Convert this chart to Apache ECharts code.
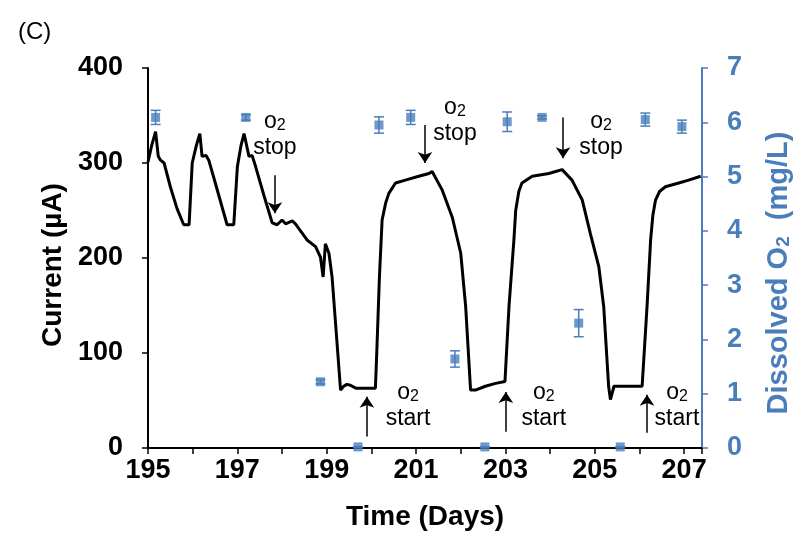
<!DOCTYPE html>
<html>
<head>
<meta charset="utf-8">
<script src="https://cdn.jsdelivr.net/npm/echarts@6/dist/echarts.min.js"></script>
<style>
html, body { margin: 0; padding: 0; background: #fff; }
#main { width: 796px; height: 536px; }
</style>
</head>
<body>
<div id="main"></div>
<script>
// current trace (days, µA)
var days = [195.0, 195.08, 195.17, 195.23, 195.28, 195.32, 195.36, 195.5, 195.65, 195.8, 195.92,
    195.99, 196.08, 196.16, 196.21, 196.3, 196.36, 196.5, 196.65, 196.77, 196.92,
    197.0, 197.08, 197.15, 197.26, 197.33, 197.41, 197.6, 197.78, 197.89,
    198.0, 198.08, 198.23, 198.3, 198.56, 198.75, 198.86, 198.92, 198.97, 199.05, 199.12, 199.2,
    199.31, 199.38, 199.45, 199.53, 199.65, 200.09, 200.12, 200.18, 200.24, 200.32, 200.39, 200.54,
    200.76, 201.06, 201.29, 201.36, 201.58, 201.81, 201.9, 202.0, 202.11, 202.22, 202.33, 202.55,
    202.78, 202.99, 203.08, 203.19, 203.23, 203.3, 203.37, 203.6, 203.97, 204.27, 204.49, 204.72,
    204.9, 205.09, 205.2, 205.31, 205.35, 205.43, 206.06, 206.17, 206.25, 206.3, 206.36, 206.45,
    206.58, 206.88, 207.1, 207.37];
var current = [301, 318, 333, 307, 303, 305, 300, 275, 252, 235, 235,
    300, 318, 331, 307, 308, 303, 280, 255, 235, 235,
    296, 318, 331, 307, 308, 296, 265, 237, 235,
    240, 236, 239, 236, 219, 212, 201, 180, 215, 205, 180, 130,
    61, 65, 67, 66, 63, 63, 100, 180, 240, 258, 268, 279,
    282, 286, 289, 291, 272, 243, 225, 205, 149, 61, 61, 65,
    68, 70, 149, 219, 250, 270, 279, 286, 289, 293, 282, 261,
    226, 191, 149, 65, 51, 65, 65, 149, 219, 245, 261, 270,
    275, 279, 282, 286];

// dissolved O2 (days, mg/L, error)
var o2Days = [195.17, 197.19, 198.86, 199.7, 200.17, 200.88, 201.87, 202.54, 203.04, 203.82, 204.64, 205.57, 206.13, 206.95];
var o2Values = [6.09, 6.09, 1.22, 0.02, 5.95, 6.09, 1.64, 0.02, 6.01, 6.09, 2.3, 0.02, 6.05, 5.92];
var o2Errors = [0.13, 0.05, 0.04, 0, 0.15, 0.13, 0.15, 0, 0.18, 0.03, 0.25, 0, 0.12, 0.12];

// axis tick labels
var xLabels = [195, 197, 199, 201, 203, 205, 207];

// annotations
var stopArrowX = [197.84, 201.2, 204.29];
var stopArrowFrom = [287, 340, 348];
var stopArrowTo = [247, 300, 305];
var stopTextX = [197.84, 201.87, 205.14];
var stopTextY = [330, 345, 330];
var startArrowX = [199.9, 203.01, 206.17];
var startArrowFrom = [12, 17, 16];
var startArrowTo = [54, 59, 56];
var startTextX = [200.82, 203.86, 206.84];
var startTextY = [45, 45, 45];

var font = "'Liberation Sans', Arial, sans-serif";
var blue = "#4a7ebb";

var arrows = [];
stopArrowX.forEach(function(x, i) {
    arrows.push([{ coord: [x, stopArrowFrom[i]] }, { coord: [x, stopArrowTo[i]] }]);
});
startArrowX.forEach(function(x, i) {
    arrows.push([{ coord: [x, startArrowFrom[i]] }, { coord: [x, startArrowTo[i]] }]);
});
var notes = [];
stopTextX.forEach(function(x, i) {
    notes.push({ name: "stop", coord: [x, stopTextY[i]] });
});
startTextX.forEach(function(x, i) {
    notes.push({ name: "start", coord: [x, startTextY[i]] });
});

var myChart = echarts.init(document.getElementById("main"));
var option = {
    animation: false,
    textStyle: { fontFamily: font },
    title: {
        text: "(C)",
        left: 13,
        top: 15,
        textStyle: { fontFamily: font, fontSize: 24, fontWeight: "normal", color: "#000" }
    },
    grid: { left: 148, right: 94, top: 68, bottom: 88, outerBoundsMode: "none" },
    xAxis: [{
        type: "value",
        min: 195,
        max: 207.4,
        interval: 1,
        position: "bottom",
        name: "Time (Days)",
        nameLocation: "middle",
        nameGap: 55,
        nameTextStyle: { fontSize: 28, fontWeight: "bold", color: "#000" },
        axisLine: { lineStyle: { color: "#000", width: 2 } },
        axisTick: { length: 6, lineStyle: { color: "#000", width: 1.5 } },
        axisLabel: {
            color: "#000",
            fontSize: 27,
            fontWeight: "bold",
            margin: 9,
            formatter: function(v) {
                var r = Math.round(v);
                return (Math.abs(v - r) < 1e-6 && xLabels.indexOf(r) >= 0) ? String(r) : "";
            }
        },
        splitLine: { show: false }
    }, {
        type: "value",
        min: 195,
        max: 207.4,
        position: "top",
        axisLine: { lineStyle: { color: "#000", width: 2 } },
        axisTick: { show: false },
        axisLabel: { show: false },
        splitLine: { show: false }
    }],
    yAxis: [{
        type: "value",
        min: 0,
        max: 400,
        interval: 100,
        position: "left",
        name: "Current (µA)",
        nameLocation: "middle",
        nameRotate: 90,
        nameGap: 78,
        nameTextStyle: { fontSize: 28, fontWeight: "bold", color: "#000", padding: [0, 14, 0, 0] },
        axisLine: { show: true, lineStyle: { color: "#000", width: 2 } },
        axisTick: { show: true, length: 6, lineStyle: { color: "#000", width: 1.5 } },
        axisLabel: { color: "#000", fontSize: 27, fontWeight: "bold", margin: 25 },
        splitLine: { show: false }
    }, {
        type: "value",
        min: 0,
        max: 7,
        interval: 1,
        position: "right",
        name: "{a|Dissolved O}{b|2}{a|  (mg/L)}",
        nameLocation: "middle",
        nameRotate: 90,
        nameGap: 62,
        nameTextStyle: {
            color: blue,
            padding: [0, 30, 0, 0],
            rich: {
                a: { fontSize: 29, fontWeight: "bold", color: blue, lineHeight: 30 },
                b: { fontSize: 19, fontWeight: "bold", color: blue, lineHeight: 20, padding: [10, 0, 0, 0] }
            }
        },
        axisLine: { show: true, lineStyle: { color: blue, width: 2 } },
        axisTick: { show: true, length: 6, lineStyle: { color: blue, width: 1.5 } },
        axisLabel: { color: blue, fontSize: 27, fontWeight: "bold", margin: 25 },
        splitLine: { show: false }
    }],
    series: [{
        name: "Current",
        type: "line",
        data: days.map(function(d, i) { return [d, current[i]]; }),
        showSymbol: false,
        lineStyle: { color: "#000", width: 3 },
        itemStyle: { color: "#000" },
        markLine: {
            silent: true,
            symbol: ["none", "arrow"],
            symbolSize: 11,
            lineStyle: { color: "#000", width: 1.5, type: "solid" },
            label: { show: false },
            data: arrows
        },
        markPoint: {
            silent: true,
            symbol: "circle",
            symbolSize: 1,
            itemStyle: { color: "rgba(0,0,0,0)" },
            label: {
                show: true,
                position: "inside",
                align: "center",
                formatter: function(p) {
                    return "{o|o}{s|2}\n{t|" + p.name + "}";
                },
                rich: {
                    o: { fontSize: 23, lineHeight: 26, color: "#000" },
                    s: { fontSize: 16, lineHeight: 18, padding: [8, 0, 0, 0], color: "#000" },
                    t: { fontSize: 23, lineHeight: 26, color: "#000" }
                }
            },
            data: notes
        }
    }, {
        name: "O2 error",
        type: "custom",
        yAxisIndex: 1,
        data: o2Days.map(function(d, i) { return [d, o2Values[i], o2Errors[i]]; }),
        renderItem: function(params, api) {
            var x = api.value(0), y = api.value(1), e = api.value(2);
            var top = api.coord([x, y + e]);
            var bot = api.coord([x, y - e]);
            var w = 5;
            var st = { stroke: blue, lineWidth: 1.5 };
            return {
                type: "group",
                children: [
                    { type: "line", shape: { x1: top[0], y1: top[1], x2: bot[0], y2: bot[1] }, style: st },
                    { type: "line", shape: { x1: top[0] - w, y1: top[1], x2: top[0] + w, y2: top[1] }, style: st },
                    { type: "line", shape: { x1: bot[0] - w, y1: bot[1], x2: bot[0] + w, y2: bot[1] }, style: st }
                ]
            };
        },
        z: 3
    }, {
        name: "Dissolved O2",
        type: "scatter",
        yAxisIndex: 1,
        symbol: "rect",
        symbolSize: 9,
        itemStyle: { color: blue },
        data: o2Days.map(function(d, i) { return [d, o2Values[i]]; }),
        z: 4
    }]
};
myChart.setOption(option);
window.addEventListener("resize", function() {
    myChart.resize();
});
</script>
</body>
</html>
